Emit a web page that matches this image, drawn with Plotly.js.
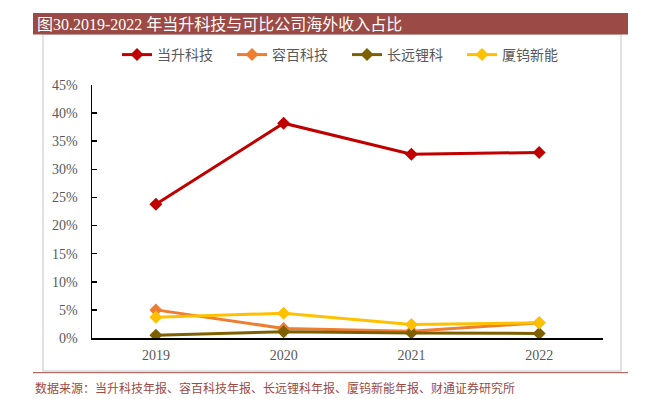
<!DOCTYPE html>
<html><head><meta charset="utf-8">
<script src="https://cdn.plot.ly/plotly-3.0.1.min.js"></script>
<style>html,body{margin:0;padding:0;background:#fff}#chart{width:653px;height:399px}</style>
</head><body><div id="chart"></div>
<script>
const years = ['2019','2020','2021','2022'];
const seriesNames = ['当升科技','容百科技','长远锂科','厦钨新能'];
const dangsheng = [0.238, 0.382, 0.327, 0.330];
const rongbai = [0.050, 0.017, 0.012, 0.027];
const changyuan = [0.005, 0.011, 0.009, 0.008];
const xiawu = [0.037, 0.044, 0.024, 0.027];
const yTicks = [0,0.05,0.10,0.15,0.20,0.25,0.30,0.35,0.40,0.45];
const yTickText = ['0%','5%','10%','15%','20%','25%','30%','35%','40%','45%'];
const titleText = '图30.2019-2022 年当升科技与可比公司海外收入占比';
const sourceText = '数据来源：当升科技年报、容百科技年报、长远锂科年报、厦钨新能年报、财通证券研究所';
const colors = ['#C00000','#ED7D31','#7F6000','#FFC000'];

const W=653,H=399,L=92,R=603,T=85,B=338;
const px = x => (x-L)/(R-L);
const py = y => (B-y)/(B-T);

const data = [dangsheng, rongbai, changyuan, xiawu].map((v,i)=>({
  type:'scatter', mode:'lines+markers', name:seriesNames[i], x:years, y:v,
  line:{color:colors[i], width:3},
  marker:{symbol:'diamond', size:10, color:colors[i]}
}));

const serif = '"Liberation Serif","Times New Roman","Noto Sans CJK SC",serif';
const layout = {
  width:W, height:H,
  margin:{l:L, r:W-R, t:T, b:H-B, pad:0},
  paper_bgcolor:'#fff', plot_bgcolor:'#fff',
  showlegend:true,
  legend:{orientation:'h', x:px(117), xanchor:'left', y:py(55), yanchor:'middle',
    font:{family:'"Noto Sans CJK SC",sans-serif', size:14, color:'#595959'},
    traceorder:'normal', itemwidth:30, tracegroupgap:0, entrywidth:70, entrywidthmode:'pixels'},
  xaxis:{type:'category', range:[-0.5,3.5], showline:true, linecolor:'#000', linewidth:1.5,
    ticks:'', showgrid:false, zeroline:false,
    tickfont:{family:serif, size:14, color:'#595959'}, ticklabelstandoff:4},
  yaxis:{range:[0,0.45], tickvals:yTicks, ticktext:yTickText, showline:true, linecolor:'#000', linewidth:1.5,
    ticks:'inside', ticklen:5, tickcolor:'#000', tickwidth:1.5, showgrid:false, zeroline:false,
    tickfont:{family:serif, size:14, color:'#595959'}, ticklabelstandoff:10},
  shapes:[
    {type:'rect', xref:'paper', yref:'paper', x0:px(43), x1:px(621), y0:py(371), y1:py(34),
      line:{color:'#D9D9D9', width:1.5}, fillcolor:'rgba(0,0,0,0)', layer:'below'},
    {type:'rect', xref:'paper', yref:'paper', x0:px(33), x1:px(628), y0:py(34.5), y1:py(13),
      line:{width:0}, fillcolor:'#9B4A45'},
    {type:'line', xref:'paper', yref:'paper', x0:px(33), x1:px(628), y0:py(372.7), y1:py(372.7),
      line:{color:'#9B4A45', width:1}}
  ],
  annotations:[
    {xref:'paper', yref:'paper', x:px(35), y:py(24), xanchor:'left', yanchor:'middle', showarrow:false,
      text:titleText, font:{family:serif, size:16, color:'#ffffff'}},
    {xref:'paper', yref:'paper', x:px(33), y:py(387), xanchor:'left', yanchor:'middle', showarrow:false,
      text:sourceText, font:{family:'"Noto Sans CJK SC",sans-serif', size:12, color:'#9B4A45'}}
  ]
};
Plotly.newPlot('chart', data, layout, {displayModeBar:false, staticPlot:true});
</script></body></html>
